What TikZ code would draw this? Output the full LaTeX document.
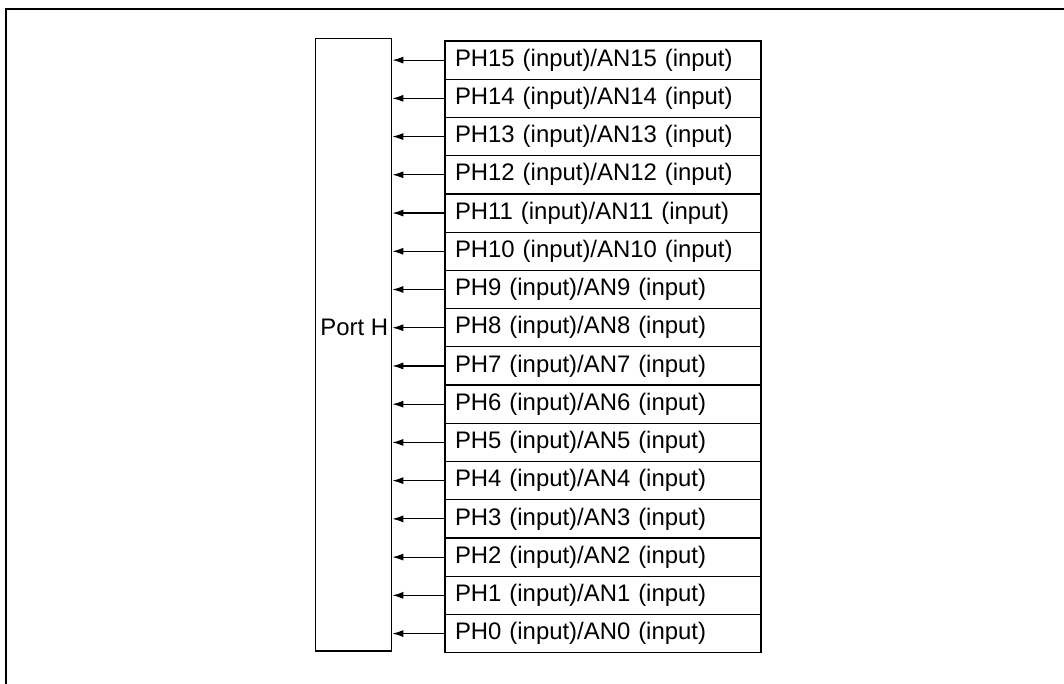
\documentclass[tikz,border=0pt]{standalone}
\usepackage{fontspec}
\setmainfont{Liberation Sans}
\usetikzlibrary{positioning, arrows.meta, calc}

\begin{document}
\begin{tikzpicture}[x=1pt, y=-1pt,
  portbox/.style={rectangle, draw=black, line width=1.2pt,
                  minimum width=76pt, minimum height=612pt, inner sep=0pt},
  pinbox/.style={rectangle, draw=black, line width=1.2pt,
                 minimum width=316pt, minimum height=38.23pt,
                 text width=296pt, inner xsep=10pt, inner ysep=0pt,
                 align=left, font=\fontsize{23.9}{28}\selectfont},
  lbl/.style={font=\fontsize{23.9}{28}\selectfont, inner sep=0pt},
  arr/.style={-{Latex[length=11pt, width=7pt]}, line width=1.2pt}
]
\useasboundingbox (0,0) rectangle (1064,684);

% Frame
\draw[line width=2pt] (6,684) -- (6,9) -- (1064,9);

% Port
\node[portbox] (porth) at (353.7,344.9) {};

% Pins
\foreach \i in {15,...,0} {
  \node[pinbox] (ph\i) at (603, {41+38.23*(15-\i+0.5)})
      {PH\i{} (input)/AN\i{} (input)};
  \draw[arr] (ph\i.west) -- (porth.east |- ph\i.west);
}

\node[lbl, anchor=east] (porthlbl) at ([xshift=-4pt]porth.east |- ph8.west) {Port H};

\end{tikzpicture}
\end{document}
